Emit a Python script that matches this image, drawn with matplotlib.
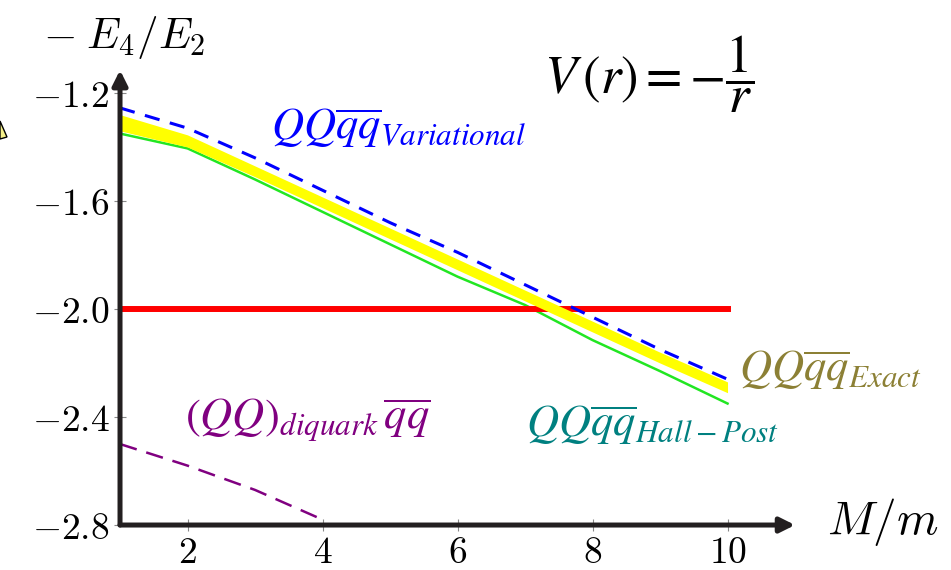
import matplotlib
matplotlib.use("Agg")
import matplotlib.pyplot as plt
from matplotlib.patches import Polygon
from matplotlib.ticker import FuncFormatter

plt.rcParams["mathtext.fontset"] = "cm"
plt.rcParams["font.family"] = "serif"

# data
mass_ratio = [1, 2, 3, 4, 5, 6, 7, 8, 9, 10]
variational = [-1.255, -1.33, -1.44, -1.56, -1.68, -1.79, -1.91, -2.03, -2.15, -2.26]
exact_upper = [-1.28, -1.355, -1.47, -1.585, -1.70, -1.815, -1.93, -2.045, -2.16, -2.27]
exact_lower = [-1.34, -1.40, -1.51, -1.625, -1.74, -1.855, -1.97, -2.085, -2.20, -2.31]
hall_post = [-1.35, -1.405, -1.52, -1.64, -1.76, -1.88, -1.985, -2.115, -2.23, -2.35]
threshold = -2.0
diquark_x = [1, 2, 3, 4]
diquark = [-2.50, -2.58, -2.67, -2.78]
xticks = [2, 4, 6, 8, 10]
yticks = [-1.2, -1.6, -2.0, -2.4, -2.8]

fig = plt.figure(figsize=(9.51, 5.70), dpi=100)
ax = fig.add_axes([0.1262, 0.0789, 0.7098, 0.7981])
ax.set_xlim(1, 11)
ax.set_ylim(-2.8, -1.115)

ax.plot(mass_ratio, hall_post, color="#22e622", lw=1.8, zorder=2)
ax.plot([mass_ratio[0], mass_ratio[-1]], [threshold, threshold], color="#ff0000", lw=4.3, zorder=3)
ax.fill_between(mass_ratio, exact_lower, exact_upper, color="#ffff00", lw=0, zorder=4)
ax.plot(mass_ratio, variational, color="#0000ff", lw=2.2, ls=(0, (5, 3.5)), zorder=5)
ax.plot(diquark_x, diquark, color="#800080", lw=1.8, ls=(0, (7, 4)), zorder=5)

# axes as arrows
for s in ax.spines.values():
    s.set_visible(False)
arrow = dict(arrowstyle="-|>", lw=3.6, color="#231f20", mutation_scale=22, shrinkA=0, shrinkB=0)
ax.annotate("", xy=(1.0, 0), xytext=(0, 0), xycoords="axes fraction", arrowprops=arrow, zorder=6)
ax.annotate("", xy=(0, 1.0), xytext=(0, 0), xycoords="axes fraction", arrowprops=arrow, zorder=6)

ax.set_xticks(xticks)
ax.set_yticks(yticks)
ax.xaxis.set_major_formatter(FuncFormatter(lambda v, p: "$%d$" % v))
ax.yaxis.set_major_formatter(FuncFormatter(lambda v, p: "$%.1f$" % v))
ax.tick_params(direction="inout", length=9, width=0.8, color="#888888", labelsize=27, pad=3)

fig.text(0.045, 0.935, r"$-\;E_4/E_2$", fontsize=31, va="center", ha="left")
fig.text(0.87, 0.085, r"$M/m$", fontsize=34, va="center", ha="left")
fig.text(0.683, 0.87, r"$V\,(r) = -\dfrac{1}{r}$", fontsize=38, va="center", ha="center",
         math_fontfamily="stix")

ax.text(3.23, -1.33, r"$QQ\overline{qq}_{Variational}$", color="#0000ff", fontsize=32,
        va="center", ha="left", math_fontfamily="stix")
ax.text(1.96, -2.41, r"$(QQ)_{diquark}\,\overline{qq}$", color="#800080", fontsize=32,
        va="center", ha="left", math_fontfamily="stix")
ax.text(7.01, -2.43, r"$QQ\overline{qq}_{Hall-Post}$", color="#008080", fontsize=32,
        va="center", ha="left", math_fontfamily="stix")
ax.text(10.17, -2.226, r"$QQ\overline{qq}_{Exact}$", color="#8c8035", fontsize=32,
        va="center", ha="left", math_fontfamily="stix")

# clipped shape at the left edge
tri = [(0, 121), (7, 137), (0, 139)]
tri = [(px / 951, 1 - py / 570) for px, py in tri]
fig.patches.append(Polygon(tri, closed=True, transform=fig.transFigure,
                           facecolor="#f5f08a", edgecolor="black", lw=1.0))

fig.savefig("out.png", dpi=100)
